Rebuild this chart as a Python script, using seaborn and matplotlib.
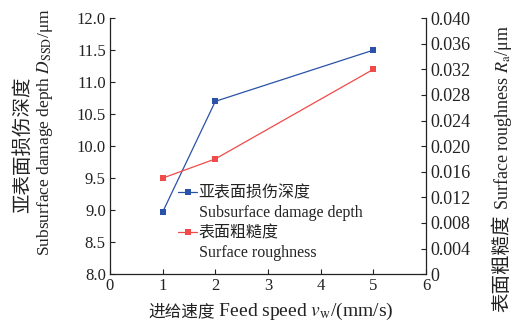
import matplotlib
matplotlib.use('Agg')
import matplotlib.pyplot as plt
from matplotlib.lines import Line2D
import pandas as pd
import seaborn as sns

# 数据
feed = [1, 2, 5]
ssd = [8.97, 10.7, 11.5]          # 亚表面损伤深度 /μm
ra = [0.015, 0.018, 0.032]        # 表面粗糙度 /μm

sns.set_style('ticks')
plt.rcParams['font.family'] = ['Liberation Serif', 'Noto Sans CJK SC']
plt.rcParams['mathtext.fontset'] = 'stix'
plt.rcParams['xtick.direction'] = 'in'
plt.rcParams['ytick.direction'] = 'in'
CJK = ['Noto Sans CJK SC']
BLUE = '#2a52a8'
RED = '#f04a4a'
TXT = '#222222'

df = pd.DataFrame({'feed': feed, 'ssd': ssd, 'ra': ra})

fig = plt.figure(figsize=(5.13, 3.24), dpi=100)
ax = fig.add_axes([0.2144, 0.154, 0.616, 0.79])
ax2 = ax.twinx()

sns.lineplot(data=df, x='feed', y='ssd', ax=ax, color=BLUE, marker='s',
             markersize=4.5, markeredgewidth=0, linewidth=0.9, legend=False)
sns.lineplot(data=df, x='feed', y='ra', ax=ax2, color=RED, marker='s',
             markersize=4.5, markeredgewidth=0, linewidth=0.9, legend=False)

ax.set_xlim(0, 6)
ax.set_ylim(8.0, 12.0)
ax2.set_ylim(0, 0.04)
ax.set_xticks(range(0, 7))
ax.set_yticks([8.0, 8.5, 9.0, 9.5, 10.0, 10.5, 11.0, 11.5, 12.0])
ax.set_yticklabels(['%.1f' % v for v in ax.get_yticks()])
ax2.set_yticks([0, 0.004, 0.008, 0.012, 0.016, 0.020, 0.024, 0.028, 0.032, 0.036, 0.040])
ax2.set_yticklabels(['0'] + ['%.3f' % v for v in ax2.get_yticks()[1:]])

for a in (ax, ax2):
    a.spines['top'].set_visible(False)
    for s in a.spines.values():
        s.set_linewidth(0.9)
        s.set_color(TXT)
    a.tick_params(labelsize=12, length=3.5, width=0.8, colors=TXT, pad=3)
ax2.tick_params(labelsize=13)
ax.spines['right'].set_visible(False)
ax2.spines['left'].set_visible(False)
ax2.spines['bottom'].set_visible(False)
ax.set_xlabel('')
ax.set_ylabel('')
ax2.set_ylabel('')

# 坐标轴标题（中英文分开绘制）
fig.text(23 / 513, 1 - 145 / 324, '亚表面损伤深度', rotation=90, ha='center',
         va='center', fontsize=14, family=CJK, color=TXT)
fig.text(45 / 513, 1 - 132 / 324, 'Subsurface damage depth $D_{\\rm SSD}$/μm',
         rotation=90, ha='center', va='center', fontsize=12.5, color=TXT)

t_x = fig.text(148 / 513, 8 / 324, '进给速度', va='baseline', fontsize=12,
               family=CJK, color=TXT)
ax.annotate(' Feed speed $v_{\\rm w}$/(mm/s)', xy=(1, 8 / 324),
            xycoords=(t_x, 'figure fraction'), va='baseline', ha='left',
            fontsize=14, color=TXT, annotation_clip=False)

t_r = fig.text(502 / 513, 12 / 324, '表面粗糙度', rotation=90, ha='center',
               va='bottom', fontsize=14, family=CJK, color=TXT)
ax2.annotate(' Surface roughness $R_{\\rm a}$/μm', xy=(503 / 513, 1),
             xycoords=('figure fraction', t_r), rotation=90, ha='center',
             va='bottom', fontsize=13, color=TXT, annotation_clip=False)

# 图例
h_blue = Line2D([], [], color=BLUE, marker='s', markersize=4.5, markeredgewidth=0, linewidth=0.9)
h_red = Line2D([], [], color=RED, marker='s', markersize=4.5, markeredgewidth=0, linewidth=0.9)
h_none = Line2D([], [], linestyle='none')
leg = ax2.legend([h_blue, h_none, h_red, h_none],
                 ['亚表面损伤深度', 'Subsurface damage depth', '表面粗糙度', 'Surface roughness'],
                 loc='upper left', bbox_to_anchor=(68 / 316, 1 - 166 / 256),
                 frameon=False, fontsize=11.5, handlelength=1.2, handletextpad=0.1,
                 labelspacing=0.22, borderaxespad=0, borderpad=0)
for i, t in enumerate(leg.get_texts()):
    t.set_color(TXT)
    if i % 2 == 0:
        t.set_family(CJK)

fig.savefig('out.png', dpi=100)
